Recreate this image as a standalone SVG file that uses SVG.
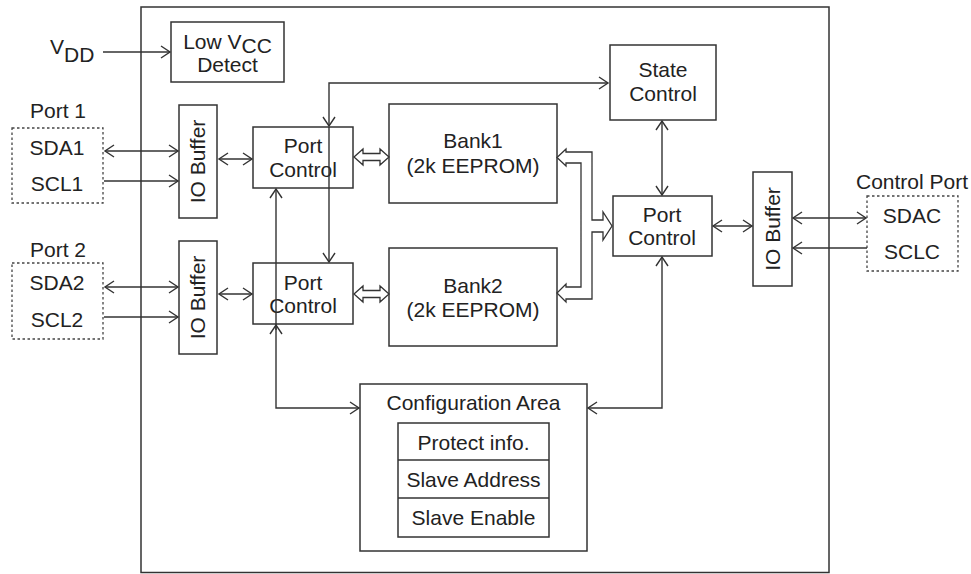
<svg xmlns="http://www.w3.org/2000/svg" width="971" height="574" viewBox="0 0 971 574">
<style>
text{font-family:"Liberation Sans",Arial,sans-serif;font-size:21px;fill:#222;text-anchor:middle}
.b{fill:none;stroke:#333;stroke-width:1.5}
.d{fill:none;stroke:#444;stroke-width:1.3;stroke-dasharray:2.5,2.5}
.c{fill:none;stroke:#333;stroke-width:1.4}
.h{fill:#fff;stroke:#333;stroke-width:1.3}
</style>
<defs>
<marker id="a" markerUnits="userSpaceOnUse" markerWidth="12" markerHeight="14" refX="10" refY="7" orient="auto-start-reverse">
<path d="M1,1 L10,7 L1,13" fill="none" stroke="#333" stroke-width="1.4"/>
</marker>
</defs>
<rect class="b" x="141" y="7" width="688" height="565.5"/>
<g id="vdd"><text x="50" y="54" style="text-anchor:start">V<tspan dy="8">DD</tspan></text></g>
<g id="lowvcc"><rect class="b" x="171" y="22" width="113" height="60"/><text x="227.5" y="49"><tspan>Low V</tspan><tspan dy="4">CC</tspan></text><text x="227.5" y="72">Detect</text></g>
<g id="port1"><rect class="d" x="12" y="128" width="91" height="75"/><text x="58" y="118">Port 1</text><text x="57" y="155">SDA1</text><text x="57" y="191">SCL1</text></g>
<g id="port2"><rect class="d" x="12" y="263" width="91" height="76"/><text x="58" y="257">Port 2</text><text x="57" y="290">SDA2</text><text x="57" y="327">SCL2</text></g>
<g id="iobuf1"><rect class="b" x="179" y="105" width="38" height="113"/><text transform="translate(205,161.5) rotate(-90)">IO Buffer</text></g>
<g id="iobuf2"><rect class="b" x="179" y="241" width="38" height="113"/><text transform="translate(205,297.5) rotate(-90)">IO Buffer</text></g>
<g id="pc1"><rect class="b" x="253" y="127" width="100" height="61"/><text x="303" y="153">Port</text><text x="303" y="177">Control</text></g>
<g id="pc2"><rect class="b" x="253" y="263" width="100" height="61"/><text x="303" y="290">Port</text><text x="303" y="313">Control</text></g>
<g id="bank1"><rect class="b" x="389" y="104" width="168" height="99"/><text x="473" y="148">Bank1</text><text x="473" y="173">(2k EEPROM)</text></g>
<g id="bank2"><rect class="b" x="389" y="248" width="168" height="98"/><text x="473" y="293">Bank2</text><text x="473" y="317">(2k EEPROM)</text></g>
<g id="state"><rect class="b" x="610" y="45" width="106" height="75"/><text x="663" y="77">State</text><text x="663" y="101">Control</text></g>
<g id="pc3"><rect class="b" x="613" y="196" width="99" height="60"/><text x="662" y="222">Port</text><text x="662" y="245">Control</text></g>
<g id="iobuf3"><rect class="b" x="753" y="172" width="39" height="114"/><text transform="translate(780,229) rotate(-90)">IO Buffer</text></g>
<g id="ctrlport"><rect class="d" x="867" y="196" width="91" height="75"/><text x="912" y="189">Control Port</text><text x="912" y="223">SDAC</text><text x="912" y="259">SCLC</text></g>
<g id="config"><rect class="b" x="360" y="384" width="227" height="167"/><text x="473.5" y="410">Configuration Area</text>
<rect class="b" x="398" y="423" width="151" height="114"/><line class="b" x1="398" y1="460" x2="549" y2="460"/><line class="b" x1="398" y1="498" x2="549" y2="498"/>
<text x="473.5" y="450">Protect info.</text><text x="473.5" y="487">Slave Address</text><text x="473.5" y="525">Slave Enable</text></g>
<g id="connectors">
<line class="c" x1="103" y1="52" x2="170" y2="52" marker-end="url(#a)"/>
<line class="c" x1="105" y1="151" x2="178" y2="151" marker-start="url(#a)" marker-end="url(#a)"/>
<line class="c" x1="104" y1="181" x2="178" y2="181" marker-end="url(#a)"/>
<line class="c" x1="105" y1="287" x2="178" y2="287" marker-start="url(#a)" marker-end="url(#a)"/>
<line class="c" x1="104" y1="317" x2="178" y2="317" marker-end="url(#a)"/>
<line class="c" x1="219" y1="159" x2="252" y2="159" marker-start="url(#a)" marker-end="url(#a)"/>
<line class="c" x1="219" y1="294" x2="252" y2="294" marker-start="url(#a)" marker-end="url(#a)"/>
<path class="c" d="M329,126 L329,83 L608,83" marker-start="url(#a)" marker-end="url(#a)"/>
<line class="c" x1="329" y1="127" x2="329" y2="262" marker-end="url(#a)"/>
<path class="c" d="M276,189 L276,408 L359,408" marker-start="url(#a)" marker-end="url(#a)"/>
<line class="c" x1="276" y1="330" x2="276" y2="325" marker-end="url(#a)"/>
<line class="c" x1="662" y1="121" x2="662" y2="195" marker-start="url(#a)" marker-end="url(#a)"/>
<path class="c" d="M662,257 L662,408 L588,408" marker-start="url(#a)" marker-end="url(#a)"/>
<line class="c" x1="713" y1="226" x2="752" y2="226" marker-start="url(#a)" marker-end="url(#a)"/>
<line class="c" x1="793" y1="218" x2="866" y2="218" marker-start="url(#a)" marker-end="url(#a)"/>
<line class="c" x1="867" y1="248" x2="793" y2="248" marker-end="url(#a)"/>
<path class="h" d="M354,157 L363,149 L363,153.5 L380,153.5 L380,149 L389,157 L380,165 L380,160.5 L363,160.5 L363,165 Z"/>
<path class="h" d="M354,294 L363,286 L363,290.5 L380,290.5 L380,286 L389,294 L380,302 L380,297.5 L363,297.5 L363,302 Z"/>
<path class="h" d="M557,157.5 L566,149 L566,152 L592,152 L592,220 L603,220 L603,212 L612,226 L603,240 L603,232 L592,232 L592,299 L566,299 L566,302 L557,293 L566,284 L566,287 L581,287 L581,163 L566,163 L566,166 Z"/>
</g>
</svg>
